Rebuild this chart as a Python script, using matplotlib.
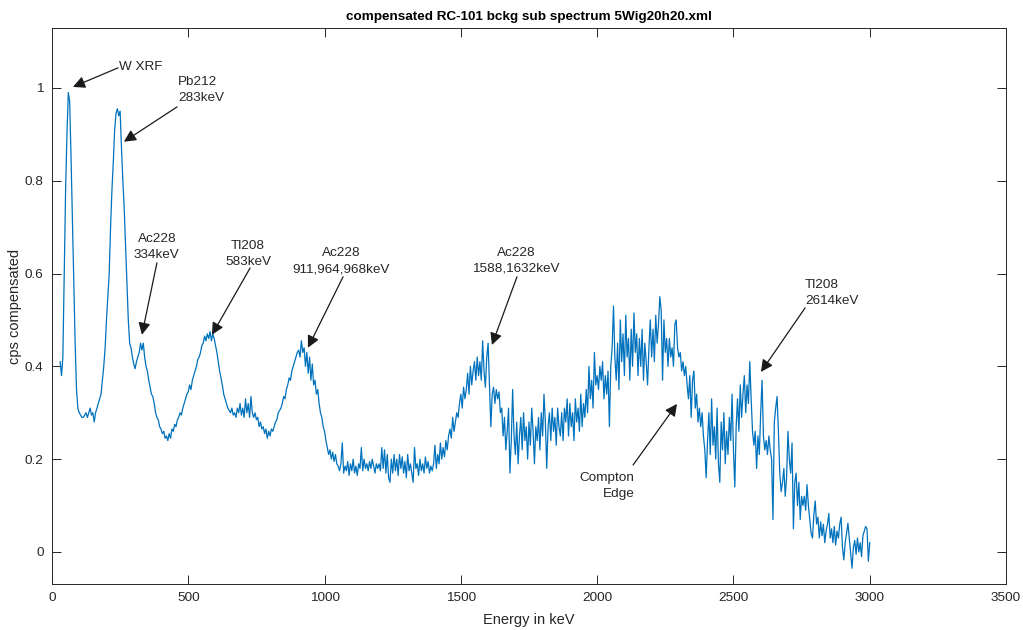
import numpy as np
import matplotlib.pyplot as plt
from matplotlib.ticker import FuncFormatter

plt.rcParams['font.family'] = ['Liberation Sans', 'DejaVu Sans']

# spectrum sampled every 5 keV from 30 keV to 3000 keV
energy = np.arange(30, 3001, 5)
cps = [
    0.41, 0.38, 0.42, 0.60, 0.78, 0.90, 0.99, 0.97, 0.85, 0.72, 0.58, 0.45, 0.35, 0.31,
    0.30, 0.295, 0.29, 0.29, 0.295, 0.30, 0.29, 0.30, 0.31, 0.295, 0.30, 0.28, 0.30, 0.31, 0.32, 0.33, 0.34, 0.37, 0.40, 0.44,
    0.50, 0.55, 0.60, 0.70, 0.78, 0.84, 0.91, 0.945, 0.955, 0.94, 0.95, 0.87, 0.80, 0.74, 0.66, 0.58, 0.50, 0.45, 0.44, 0.42,
    0.405, 0.395, 0.41, 0.42, 0.43, 0.45, 0.435, 0.45, 0.42, 0.40, 0.39, 0.37, 0.355, 0.34, 0.335, 0.32, 0.30, 0.29, 0.285, 0.27,
    0.265, 0.255, 0.26, 0.245, 0.25, 0.24, 0.255, 0.245, 0.265, 0.26, 0.275, 0.27, 0.285, 0.29, 0.30, 0.295, 0.31, 0.32, 0.33, 0.34,
    0.345, 0.36, 0.35, 0.37, 0.38, 0.39, 0.40, 0.415, 0.42, 0.43, 0.445, 0.45, 0.465, 0.455, 0.47, 0.46, 0.475, 0.455, 0.47, 0.46,
    0.445, 0.43, 0.41, 0.39, 0.375, 0.36, 0.34, 0.33, 0.32, 0.31, 0.305, 0.30, 0.31, 0.295, 0.30, 0.29, 0.31, 0.30, 0.32, 0.295,
    0.31, 0.29, 0.33, 0.30, 0.32, 0.29, 0.335, 0.30, 0.29, 0.30, 0.285, 0.29, 0.27, 0.28, 0.265, 0.27, 0.255, 0.265, 0.245, 0.26,
    0.25, 0.265, 0.26, 0.27, 0.28, 0.285, 0.30, 0.305, 0.31, 0.32, 0.335, 0.33, 0.35, 0.36, 0.375, 0.37, 0.39, 0.40, 0.41, 0.42,
    0.43, 0.435, 0.42, 0.455, 0.43, 0.44, 0.40, 0.43, 0.385, 0.42, 0.37, 0.405, 0.36, 0.37, 0.34, 0.35, 0.32, 0.30, 0.29, 0.27,
    0.26, 0.24, 0.225, 0.21, 0.22, 0.20, 0.215, 0.195, 0.21, 0.19, 0.185, 0.175, 0.19, 0.235, 0.17, 0.185, 0.175, 0.195, 0.165, 0.19,
    0.175, 0.20, 0.17, 0.185, 0.165, 0.19, 0.18, 0.225, 0.175, 0.20, 0.18, 0.19, 0.175, 0.195, 0.18, 0.20, 0.185, 0.17, 0.19, 0.18,
    0.19, 0.175, 0.225, 0.18, 0.22, 0.17, 0.21, 0.16, 0.15, 0.20, 0.17, 0.21, 0.175, 0.20, 0.165, 0.21, 0.18, 0.205, 0.17, 0.195,
    0.16, 0.21, 0.175, 0.19, 0.17, 0.15, 0.225, 0.18, 0.19, 0.165, 0.20, 0.175, 0.19, 0.17, 0.205, 0.18, 0.195, 0.17, 0.185, 0.175,
    0.19, 0.23, 0.18, 0.21, 0.19, 0.235, 0.20, 0.225, 0.205, 0.24, 0.22, 0.25, 0.265, 0.245, 0.29, 0.26, 0.28, 0.30, 0.29, 0.32,
    0.34, 0.31, 0.355, 0.33, 0.35, 0.385, 0.34, 0.40, 0.36, 0.39, 0.41, 0.37, 0.42, 0.38, 0.41, 0.37, 0.455, 0.39, 0.355, 0.42,
    0.45, 0.36, 0.27, 0.34, 0.355, 0.32, 0.35, 0.33, 0.345, 0.30, 0.31, 0.25, 0.29, 0.22, 0.26, 0.31, 0.17, 0.24, 0.35, 0.25,
    0.21, 0.28, 0.19, 0.25, 0.29, 0.22, 0.30, 0.24, 0.27, 0.20, 0.28, 0.23, 0.31, 0.26, 0.19, 0.27, 0.24, 0.29, 0.22, 0.30,
    0.25, 0.34, 0.28, 0.18, 0.27, 0.30, 0.24, 0.31, 0.26, 0.29, 0.23, 0.31, 0.27, 0.25, 0.30, 0.24, 0.31, 0.28, 0.33, 0.25,
    0.32, 0.27, 0.30, 0.24, 0.33, 0.28, 0.31, 0.26, 0.34, 0.27, 0.32, 0.29, 0.35, 0.30, 0.40, 0.33, 0.37, 0.31, 0.43, 0.36,
    0.38, 0.35, 0.40, 0.37, 0.41, 0.33, 0.38, 0.34, 0.39, 0.27, 0.40, 0.44, 0.53, 0.42, 0.37, 0.45, 0.35, 0.50, 0.41, 0.47,
    0.38, 0.51, 0.42, 0.46, 0.37, 0.48, 0.40, 0.515, 0.43, 0.47, 0.38, 0.46, 0.40, 0.48, 0.37, 0.45, 0.41, 0.36, 0.44, 0.50,
    0.42, 0.48, 0.41, 0.51, 0.45, 0.49, 0.55, 0.52, 0.37, 0.50, 0.43, 0.46, 0.40, 0.46, 0.42, 0.44, 0.40, 0.49, 0.50, 0.44,
    0.42, 0.43, 0.39, 0.41, 0.38, 0.40, 0.36, 0.33, 0.38, 0.29, 0.37, 0.39, 0.31, 0.34, 0.28, 0.31, 0.27, 0.30, 0.25, 0.22,
    0.16, 0.24, 0.30, 0.21, 0.33, 0.23, 0.27, 0.20, 0.31, 0.19, 0.15, 0.28, 0.22, 0.30, 0.19, 0.26, 0.21, 0.29, 0.24, 0.34,
    0.22, 0.14, 0.27, 0.33, 0.26, 0.36, 0.29, 0.34, 0.38, 0.30, 0.36, 0.32, 0.41, 0.33, 0.26, 0.23, 0.26, 0.18, 0.25, 0.21,
    0.30, 0.37, 0.25, 0.22, 0.24, 0.21, 0.25, 0.22, 0.20, 0.07, 0.28, 0.31, 0.335, 0.26, 0.17, 0.13, 0.15, 0.18, 0.12, 0.16,
    0.26, 0.20, 0.17, 0.235, 0.05, 0.15, 0.17, 0.10, 0.15, 0.07, 0.12, 0.10, 0.12, 0.09, 0.145, 0.10, 0.07, 0.04, 0.03, 0.08,
    0.11, 0.06, 0.075, 0.03, 0.065, 0.035, 0.06, 0.02, 0.045, 0.06, 0.083, 0.03, 0.05, 0.02, 0.055, 0.015, 0.045, 0.03, 0.06, 0.075,
    0.01, -0.017, 0.02, 0.04, 0.062, 0.03, 0.0, -0.035, 0.01, 0.025, -0.005, 0.03, 0.0, 0.02, -0.01, 0.035, 0.045, 0.055, 0.05, -0.02,
    0.02,
]

# peak labels: text, text anchor, alignment, arrow tail, arrow tip
labels = ['W XRF', 'Pb212\n283keV', 'Ac228\n334keV', 'Tl208\n583keV',
          'Ac228\n911,964,968keV', 'Ac228\n1588,1632keV', 'Compton\nEdge',
          'Tl208\n2614keV']
text_xy = [(246, 1.045), (462, 0.995), (385, 0.657), (719, 0.643),
           (1062, 0.626), (1702, 0.627), (2137, 0.142), (2762, 0.559)]
text_ha = ['left', 'left', 'center', 'center', 'center', 'center', 'right', 'left']
arrow_tail = [(242, 1.043), (459, 0.959), (385, 0.623), (727, 0.612),
              (1068, 0.593), (1706, 0.593), (2132, 0.1875), (2763, 0.526)]
arrow_tip = [(77, 1.002), (264, 0.884), (330, 0.468), (587, 0.468),
             (939, 0.44), (1614, 0.446), (2293, 0.319), (2601, 0.388)]

fig = plt.figure(figsize=(10.23, 6.30), dpi=100)
ax = fig.add_axes([0.0508, 0.073, 0.9326, 0.8826])

ax.plot(energy, cps, color='#0072BD', lw=0.9)

for txt, xy, ha, tail, tip in zip(labels, text_xy, text_ha, arrow_tail, arrow_tip):
    ax.text(xy[0], xy[1], txt, ha=ha, va='center', fontsize=9.7,
            color='#262626', linespacing=1.45)
    ax.annotate('', xy=tip, xytext=tail,
                arrowprops=dict(arrowstyle='-|>', color='#1a1a1a', lw=0.9,
                                mutation_scale=18, shrinkA=0, shrinkB=0))

ax.set_xlim(0, 3500)
ax.set_ylim(-0.069, 1.129)
ax.set_xticks(np.arange(0, 3501, 500))
ax.set_yticks(np.arange(0, 1.01, 0.2))
ax.yaxis.set_major_formatter(FuncFormatter(lambda v, p: '%g' % round(v, 2)))

ax.tick_params(direction='in', length=6.5, width=0.7, top=True, right=True,
               labelsize=9.7, colors='#262626', pad=6)
for s in ax.spines.values():
    s.set_color('#262626')
    s.set_linewidth(0.7)

ax.set_title('compensated RC-101 bckg sub spectrum 5Wig20h20.xml',
             fontsize=9.7, fontweight='bold', pad=6)
ax.set_xlabel('Energy in keV', fontsize=10.5, color='#262626', labelpad=6)
ax.set_ylabel('cps compensated', fontsize=10.5, color='#262626', labelpad=2)

plt.savefig('out.png', dpi=100)
